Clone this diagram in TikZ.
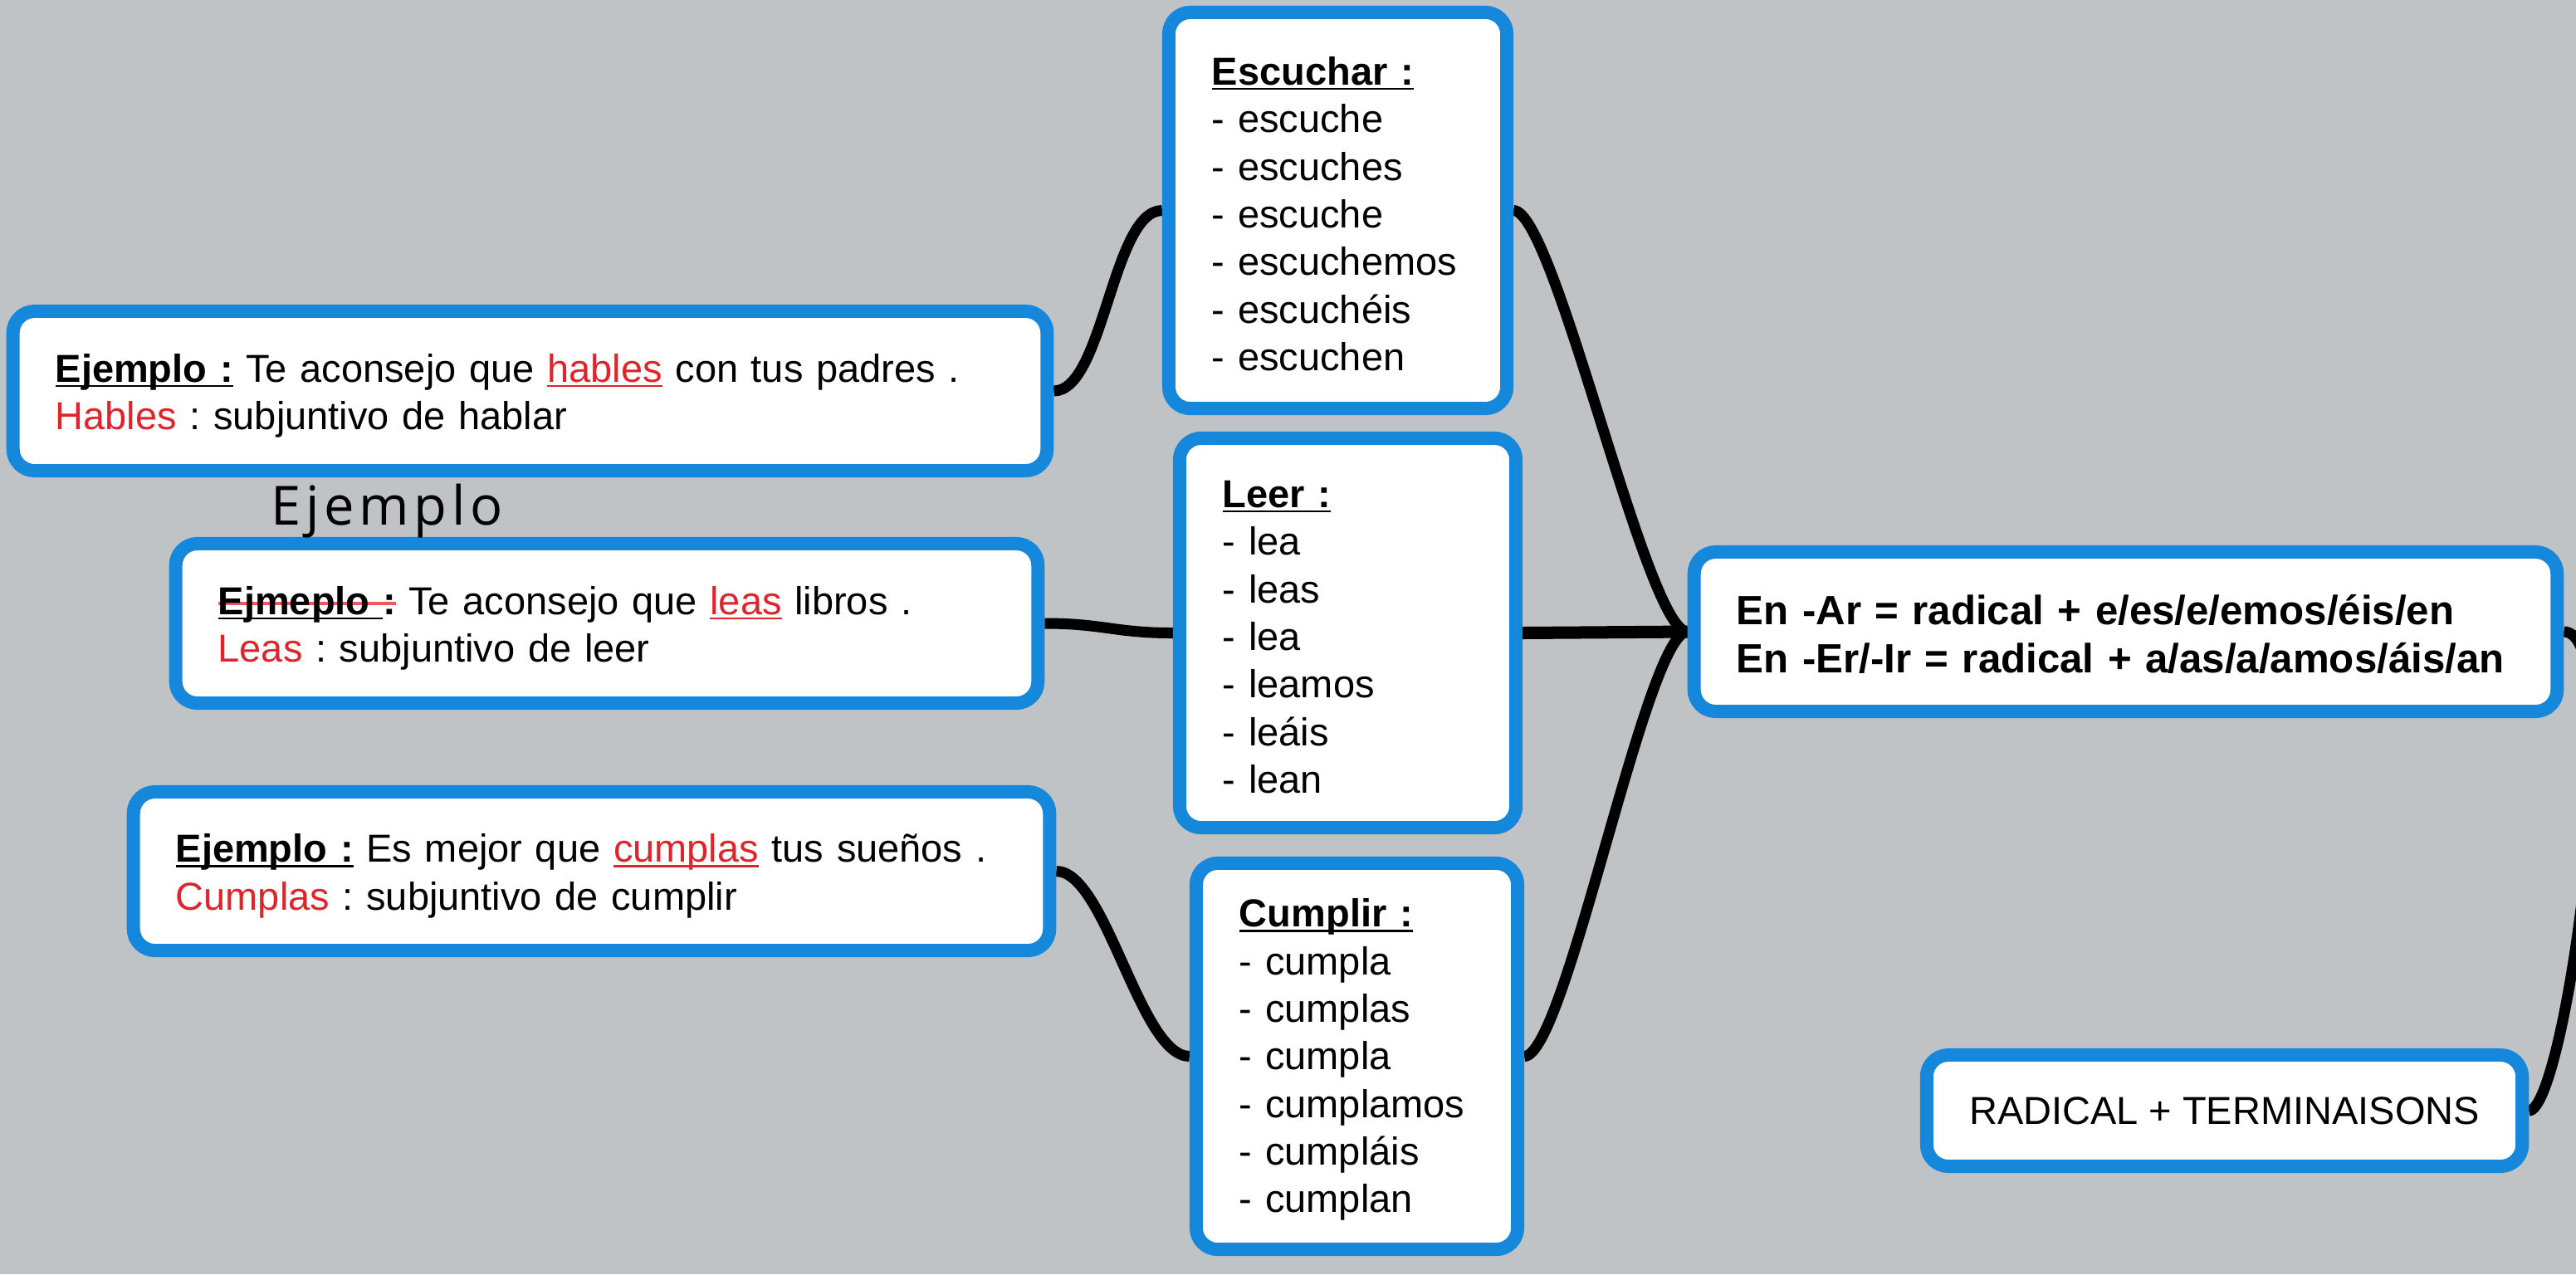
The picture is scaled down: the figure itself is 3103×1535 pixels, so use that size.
\documentclass[tikz,border=0pt]{standalone}
\usepackage{fontspec}
\setmainfont{Liberation Sans}
\newfontfamily\ejfont[LetterSpace=8.7]{Open Sans}
\definecolor{bggray}{RGB}{191,195,198}
\definecolor{boxblue}{RGB}{21,136,220}
\definecolor{txtred}{RGB}{224,36,44}
\definecolor{strikered}{RGB}{240,88,92}
\newsavebox\ulbox
\newsavebox\stbox
\newcommand\myul[1]{\sbox\ulbox{#1}\rlap{\rule[-1.7pt]{\wd\ulbox}{0.75pt}}\usebox\ulbox}
\newcommand\mystrike[1]{\sbox\stbox{#1}\rlap{\textcolor{strikered}{\rule[3.3pt]{\wd\stbox}{0.95pt}}}\usebox\stbox}
\newcommand\topstrut{\rule{0pt}{13pt}}
\pgfdeclarelayer{back}
\pgfdeclarelayer{connect}
\pgfsetlayers{back,connect,main}
\tikzset{
  mbox/.style={draw=boxblue, line width=0.16cm, fill=white, rounded corners=0.26cm,
    align=left, inner sep=0pt, font=\fontsize{13.36}{16.3}\selectfont\frenchspacing},
  conn/.style={line width=0.13cm, black},
}
\begin{document}
\begin{tikzpicture}[x=0.01cm, y=-0.01cm]
\useasboundingbox (0,0) rectangle (3103,1535);
\clip (0,0) rectangle (3103,1535);

\node[mbox, minimum width=12.45cm, minimum height=1.92cm, text width=11.43cm] (hab) at (638.5,471)
  {\topstrut\myul{\textbf{Ejemplo :}} Te aconsejo que \textcolor{txtred}{\myul{hables}} con tus padres .\\
   \textcolor{txtred}{Hables} : subjuntivo de hablar};
\node[mbox, minimum width=10.38cm, minimum height=1.92cm, text width=9.36cm] (leas) at (731,751)
  {\topstrut\mystrike{\myul{\textbf{Ejmeplo }}\textbf{:}} Te aconsejo que \textcolor{txtred}{\myul{leas}} libros .\\
   \textcolor{txtred}{Leas} : subjuntivo de leer};
\node[mbox, minimum width=11.03cm, minimum height=1.91cm, text width=10.01cm] (cumas) at (712.5,1049.5)
  {\topstrut\myul{\textbf{Ejemplo :}} Es mejor que \textcolor{txtred}{\myul{cumplas}} tus sueños .\\
   \textcolor{txtred}{Cumplas} : subjuntivo de cumplir};

\node[mbox, minimum width=4.07cm, minimum height=4.77cm, text width=3.03cm] (esc) at (1611.5,253.5)
  {\rule{0pt}{12pt}\myul{\textbf{Escuchar :}}\\- escuche\\- escuches\\- escuche\\- escuchemos\\- escuchéis\\- escuchen};
\node[mbox, minimum width=4.05cm, minimum height=4.69cm, text width=3.01cm] (leer) at (1623.5,762.5)
  {\rule{0pt}{12pt}\myul{\textbf{Leer :}}\\- lea\\- leas\\- lea\\- leamos\\- leáis\\- lean};
\node[mbox, minimum width=3.87cm, minimum height=4.65cm, text width=2.83cm] (cumir) at (1634.5,1272.5)
  {\rule{0pt}{12pt}\myul{\textbf{Cumplir :}}\\- cumpla\\- cumplas\\- cumpla\\- cumplamos\\- cumpláis\\- cumplan};

\node[mbox, minimum width=10.39cm, minimum height=1.92cm, text width=9.37cm,
      font=\fontsize{14}{16.3}\selectfont\bfseries] (rule) at (2560.5,761)
  {\rule{0pt}{12pt}En -Ar = radical + e/es/e/emos/éis/en\\En -Er/-Ir = radical + a/as/a/amos/áis/an};
\node[mbox, align=center, minimum width=7.17cm, minimum height=1.34cm] (rad) at (2679.5,1338)
  {RADICAL + TERMINAISONS};

\node[anchor=base west, inner sep=0pt, font=\ejfont\fontsize{18.5}{20}\selectfont, text=black] (ejt) at (326,632)
  {Ejemplo};

\begin{pgfonlayer}{back}
  \fill[bggray] (0,0) rectangle (3103,1535);
\end{pgfonlayer}
\begin{pgfonlayer}{connect}
  \draw[conn] (hab.east) .. controls +(60,0) and +(-60,0) .. (esc.west);
  \draw[conn] (leas.east) .. controls +(70,0) and +(-70,0) .. (leer.west);
  \draw[conn] (cumas.east) .. controls +(60,0) and +(-60,0) .. (cumir.west);
  \draw[conn] (esc.east) .. controls +(50,0) and +(-50,0) .. (rule.west);
  \draw[conn, line width=0.15cm] (leer.east) -- (rule.west);
  \draw[conn] (cumir.east) .. controls +(50,0) and +(-50,0) .. (rule.west);
  \draw[conn] (rule.east) .. controls +(80,0) and +(45,0) .. (rad.east);
\end{pgfonlayer}
\end{tikzpicture}
\end{document}
